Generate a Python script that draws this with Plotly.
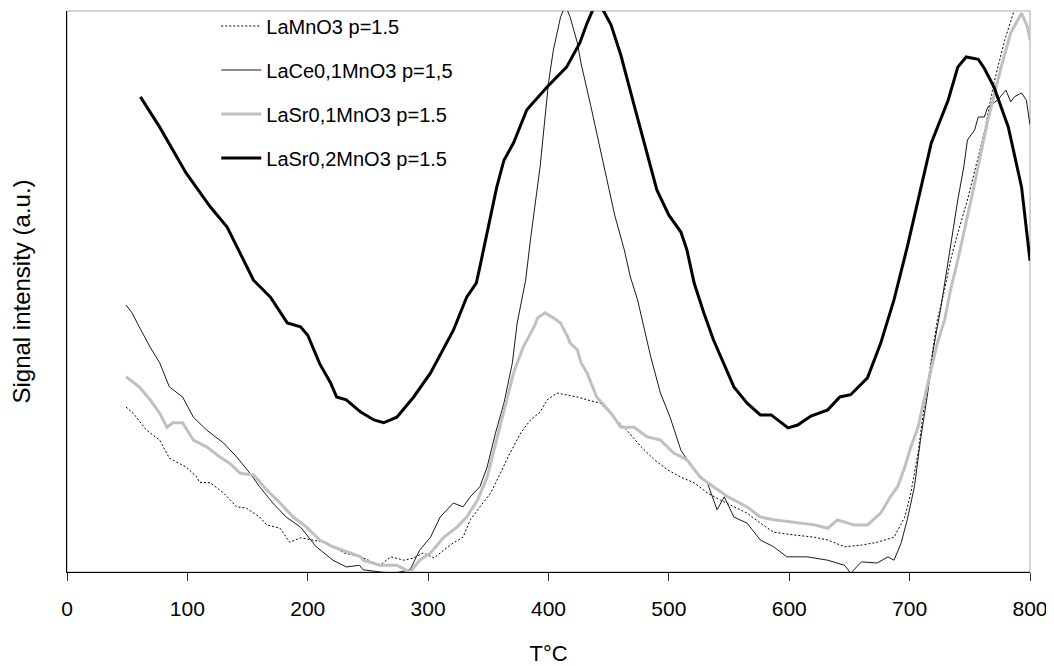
import plotly.graph_objects as go

# ---- data ----
series_names = ["LaMnO3 p=1.5", "LaCe0,1MnO3 p=1,5", "LaSr0,1MnO3 p=1.5", "LaSr0,2MnO3 p=1.5"]

t_lamno3 = [49, 55, 66, 77, 85, 99, 108, 110, 119, 130, 141, 149, 160, 166, 177, 185, 194, 205, 216, 230,
            244, 260, 269, 280, 288, 296, 305, 313, 321, 329, 335, 343, 352, 360, 368, 377, 385, 393, 399, 407,
            416, 424, 432, 443, 454, 465, 477, 488, 499, 510, 521, 532, 543, 554, 565, 576, 587, 604, 621, 632,
            646, 660, 673, 687, 696, 701, 707, 712, 718, 723, 729, 734, 740, 748, 762, 770, 779, 787, 795, 800]
s_lamno3 = [29.4, 28.3, 25.3, 23.5, 20.3, 18.7, 16.9, 16.0, 15.9, 14.1, 11.6, 11.4, 9.8, 8.4, 7.8, 5.3, 6.1, 5.7, 5.2, 3.4,
            2.7, 1.2, 2.7, 2.1, 2.5, 3.4, 2.5, 3.9, 5.2, 6.2, 9.3, 11.6, 14.1, 17.6, 21.2, 24.8, 27.1, 28.5, 30.7, 31.9,
            31.6, 31.2, 30.7, 30.1, 27.6, 25.3, 22.3, 20.0, 18.2, 16.9, 15.9, 14.1, 12.8, 11.6, 10.5, 8.7, 7.1, 6.6, 6.2, 5.7,
            4.5, 4.8, 5.3, 6.2, 9.8, 14.1, 21.2, 29.4, 37.8, 44.9, 50.3, 55.6, 60.4, 66.3, 78.3, 87.2, 94.8, 100.2, 104.6, 107.3]

t_lace = [49, 54, 60, 69, 77, 85, 96, 105, 116, 130, 141, 152, 160, 171, 182, 194, 207, 221, 232, 243,
          246, 260, 272, 285, 293, 302, 310, 316, 321, 329, 335, 343, 349, 356, 363, 370, 374, 381, 385, 393,
          400, 404, 410, 414, 418, 424, 427, 435, 445, 455, 463, 468, 474, 479, 485, 493, 501, 510, 521, 532,
          540, 546, 554, 565, 576, 587, 598, 615, 632, 646, 651, 660, 673, 682, 687, 693, 698, 704, 709, 715,
          720, 726, 732, 737, 740, 745, 748, 754, 757, 762, 765, 773, 780, 784, 787, 793, 797, 800]
s_lace = [47.6, 46.2, 43.7, 40.1, 37.3, 33.0, 31.2, 27.6, 25.3, 23.0, 20.5, 17.6, 15.2, 12.3, 9.8, 8.0, 4.5, 2.1, 0.9, 1.2,
          0.4, 0.0, -0.2, 0.4, 3.9, 6.2, 9.8, 11.1, 12.3, 11.6, 13.4, 15.2, 18.7, 24.8, 30.1, 37.3, 44.4, 52.0, 59.2, 72.2,
          87.2, 93.0, 98.9, 101.0, 98.9, 94.3, 90.7, 83.2, 73.4, 63.6, 57.4, 52.6, 48.5, 43.7, 38.3, 31.9, 27.6, 21.7, 18.2, 15.9,
          11.1, 13.4, 9.8, 8.7, 5.7, 4.5, 2.7, 2.7, 2.1, 1.2, -0.2, 1.8, 1.6, 2.7, 2.1, 5.2, 9.3, 15.2, 23.5, 31.9,
          40.1, 47.2, 55.6, 62.7, 66.3, 72.2, 77.0, 78.8, 81.1, 81.1, 82.9, 84.1, 85.9, 83.8, 84.7, 85.4, 84.1, 79.7]

t_lasr01 = [49, 60, 69, 77, 83, 88, 96, 105, 116, 127, 135, 144, 155, 166, 177, 188, 199, 210, 221, 232,
            244, 246, 260, 274, 285, 293, 302, 313, 324, 332, 341, 349, 357, 365, 371, 379, 388, 391, 397, 404,
            410, 416, 418, 424, 427, 432, 440, 452, 460, 471, 482, 493, 504, 515, 526, 537, 549, 565, 576, 587,
            604, 621, 632, 640, 654, 665, 676, 684, 690, 696, 701, 707, 712, 718, 723, 729, 734, 740, 745, 751,
            765, 776, 784, 793, 798, 800]
s_lasr01 = [34.8, 33.0, 30.7, 28.3, 25.8, 26.6, 26.6, 23.5, 22.3, 20.5, 19.4, 17.6, 17.3, 14.6, 12.3, 9.8, 8.0, 5.7, 4.5, 3.6,
            2.7, 2.1, 1.2, 1.2, 0.0, 2.1, 3.4, 6.2, 8.0, 9.8, 12.8, 16.9, 23.5, 30.1, 35.5, 40.1, 43.7, 45.3, 46.2, 45.3,
            44.4, 41.9, 40.8, 39.6, 37.3, 35.5, 31.2, 28.3, 25.8, 25.8, 24.1, 23.5, 21.2, 20.0, 16.9, 15.2, 13.4, 11.6, 9.8, 9.3,
            8.9, 8.4, 7.8, 9.3, 8.4, 8.4, 10.5, 13.4, 15.2, 18.7, 22.3, 25.8, 30.7, 36.0, 40.8, 44.9, 50.3, 55.6, 60.4, 66.3,
            80.6, 90.0, 96.1, 99.6, 97.1, 94.8]

t_lasr02 = [61, 77, 99, 119, 133, 155, 169, 183, 194, 200, 210, 219, 224, 232, 244, 255, 263, 274, 288, 302,
            321, 332, 340, 343, 357, 363, 371, 382, 399, 415, 426, 432, 437, 445, 452, 460, 470, 480, 490, 500,
            510, 515, 521, 529, 537, 554, 565, 576, 585, 599, 607, 618, 632, 642, 651, 665, 676, 687, 698, 718,
            732, 740, 747, 757, 762, 770, 782, 793, 800]
s_lasr02 = [84.7, 79.3, 71.1, 65.1, 61.5, 52.0, 49.0, 44.4, 43.7, 42.2, 37.1, 33.7, 31.2, 30.7, 28.5, 27.1, 26.6, 27.6, 31.2, 35.5,
            43.1, 49.0, 51.5, 54.4, 68.6, 73.4, 76.5, 82.4, 86.5, 90.0, 94.3, 97.8, 100.3, 100.3, 97.5, 92.2, 84.1, 76.1, 68.1, 63.6,
            60.6, 57.4, 51.5, 46.2, 41.4, 33.0, 30.1, 28.0, 28.0, 25.7, 26.2, 27.8, 28.9, 31.2, 31.6, 34.6, 40.8, 48.5, 57.9, 76.5,
            84.1, 90.0, 91.8, 91.4, 89.8, 86.5, 79.3, 68.6, 55.5]

x_ticks = [0, 100, 200, 300, 400, 500, 600, 700, 800]

# ---- figure ----
fig = go.Figure()
fig.add_trace(go.Scatter(x=t_lamno3, y=s_lamno3, mode="lines", name=series_names[0], legendgroup="a",
                         line=dict(color="black", width=1, dash="2px,2px")))
fig.add_trace(go.Scatter(x=t_lace, y=s_lace, mode="lines", name=series_names[1], legendgroup="b",
                         line=dict(color="#1a1a1a", width=1)))
fig.add_trace(go.Scatter(x=t_lasr01, y=s_lasr01, mode="lines", name=series_names[2], legendgroup="c",
                         line=dict(color="#c0c0c0", width=3)))
fig.add_trace(go.Scatter(x=t_lasr02, y=s_lasr02, mode="lines", name=series_names[3], legendgroup="d",
                         line=dict(color="black", width=3)))

fig.add_shape(type="rect", xref="paper", yref="paper", x0=0, y0=0, x1=1, y1=1,
              line=dict(color="#a6a6a6", width=1), layer="below")

# the page body adds an 8px offset, so the figure is 8px smaller and margins are shifted
fig.update_layout(
    width=1046, height=658,
    margin=dict(l=59, r=24, t=3, b=94, autoexpand=False),
    paper_bgcolor="white", plot_bgcolor="white",
    font=dict(family="Arial, Liberation Sans, sans-serif", color="black", size=21),
    showlegend=True,
    legend=dict(x=0.155, y=1.008, xanchor="left", yanchor="top", bgcolor="rgba(0,0,0,0)",
                font=dict(size=20), tracegroupgap=15, traceorder="grouped", itemwidth=40),
    xaxis=dict(range=[0, 800], tickvals=x_ticks, ticktext=[str(v) for v in x_ticks],
               ticks="outside", ticklen=8, tickcolor="#333", showline=True, linecolor="black", linewidth=1,
               showgrid=False, zeroline=False, tickfont=dict(size=21), ticklabelstandoff=10, automargin=False,
               title=dict(text="T°C", font=dict(size=22), standoff=27)),
    yaxis=dict(range=[0, 100], showticklabels=False, ticks="", showline=True, linecolor="black", linewidth=1,
               showgrid=False, zeroline=False, automargin=False,
               title=dict(text="Signal intensity (a.u.)", font=dict(size=24), standoff=29)),
)

fig.write_html("out.html")
